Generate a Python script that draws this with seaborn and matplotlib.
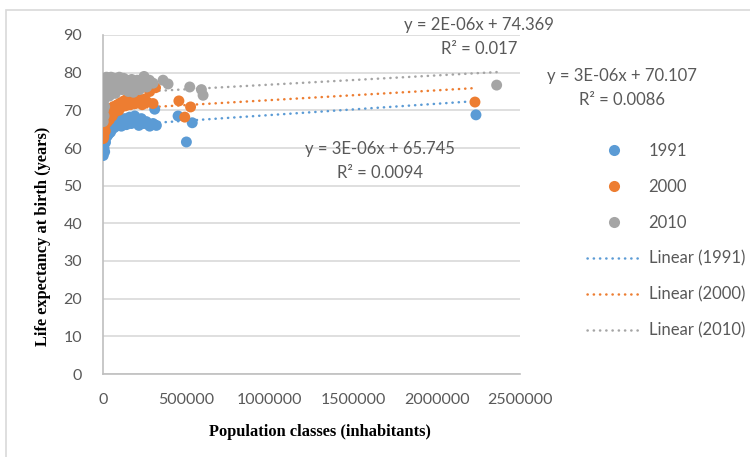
import numpy as np
import pandas as pd
import matplotlib
matplotlib.use("Agg")
import matplotlib.pyplot as plt
from matplotlib.patches import Rectangle
from matplotlib.lines import Line2D
import seaborn as sns

# ---- data -------------------------------------------------------------
years = ["1991", "2000", "2010"]

pop_1991 = [1500, 2500, 3500, 5000, 6000, 8000, 10000, 12000, 15000, 18000,
            22000, 26000, 30000, 35000, 40000, 45000, 50000, 55000, 60000,
            70000, 80000, 90000, 100000, 110000, 120000, 130000, 140000,
            150000, 160000, 170000, 180000, 190000, 200000, 215000, 230000,
            245000, 260000, 280000, 300000, 310000, 320000, 450000, 500000,
            535000, 2236000]
life_1991 = [58.0, 59.5, 61.0, 62.5, 60.0, 63.5, 59.0, 64.0, 61.5, 62.8,
             64.5, 63.2, 65.0, 63.8, 65.5, 64.2, 66.0, 65.0, 66.5, 65.5,
             67.0, 66.0, 67.5, 65.8, 66.8, 67.8, 66.2, 67.2, 68.2, 66.5,
             67.0, 68.5, 67.2, 66.0, 67.8, 66.5, 67.0, 65.8, 66.5, 70.3,
             66.0, 68.5, 61.6, 66.7, 68.8]

pop_2000 = [1500, 2500, 4000, 5000, 7000, 9000, 11000, 14000, 17000, 20000,
            24000, 28000, 32000, 38000, 44000, 50000, 56000, 63000, 70000,
            78000, 86000, 95000, 105000, 115000, 125000, 135000, 145000,
            155000, 165000, 175000, 185000, 195000, 205000, 220000, 235000,
            250000, 265000, 280000, 300000, 315000, 455000, 490000, 525000,
            2230000]
life_2000 = [62.5, 64.0, 65.5, 63.0, 67.0, 66.0, 68.5, 64.5, 67.5, 69.5,
             66.8, 68.0, 70.0, 67.5, 69.0, 70.5, 68.5, 71.0, 69.5, 70.5,
             71.5, 70.0, 72.0, 71.0, 72.5, 71.2, 73.0, 72.0, 71.5, 73.2,
             72.3, 71.8, 73.5, 72.5, 71.5, 73.0, 72.2, 75.0, 71.8, 76.0,
             72.5, 68.2, 70.9, 72.2]

pop_2010 = [1500, 2500, 3500, 5000, 6500, 8000, 10000, 12000, 15000, 18000,
            21000, 25000, 29000, 33000, 38000, 43000, 48000, 54000, 60000,
            67000, 74000, 82000, 90000, 98000, 106000, 115000, 124000,
            133000, 142000, 152000, 162000, 172000, 182000, 192000, 205000,
            218000, 232000, 246000, 262000, 278000, 300000, 360000, 390000,
            520000, 590000, 600000, 2360000]
life_2010 = [67.0, 70.0, 72.5, 75.0, 68.5, 77.5, 71.0, 78.5, 73.5, 76.0,
             78.8, 74.5, 77.0, 78.5, 73.8, 76.5, 78.8, 75.0, 77.5, 78.5,
             74.5, 78.0, 76.0, 78.8, 77.0, 75.5, 78.5, 76.5, 78.0, 75.0,
             77.5, 78.2, 74.8, 76.8, 78.0, 75.5, 77.0, 79.0, 76.2, 78.0,
             77.2, 78.0, 77.0, 76.2, 75.5, 74.0, 76.7]

# linear trend coefficients (slope per inhabitant, intercept) and R²
trend_slope = [3.0e-6, 2.6e-6, 2.45e-6]
trend_intercept = [65.745, 70.107, 74.369]
trend_r2 = ["0.0094", "0.0086", "0.017"]

yticks = [0, 10, 20, 30, 40, 50, 60, 70, 80, 90]
xticks = [0, 500000, 1000000, 1500000, 2000000, 2500000]

colors = ["#5B9BD5", "#ED7D31", "#A5A5A5"]

# ---- figure -----------------------------------------------------------
sns.set_theme(style="white")
plt.rcParams["font.family"] = ["Lato", "DejaVu Sans"]

W, H = 750, 457
fig = plt.figure(figsize=(7.5, 4.57), dpi=100)
ax = fig.add_axes([103 / W, 1 - 374 / H, 417 / W, 339 / H])

df = pd.concat([
    pd.DataFrame({"pop": p, "life": l, "year": y})
    for p, l, y in zip([pop_1991, pop_2000, pop_2010],
                       [life_1991, life_2000, life_2010], years)
], ignore_index=True)

sns.scatterplot(data=df, x="pop", y="life", hue="year", hue_order=years,
                palette=colors, s=62, linewidth=0, alpha=1, ax=ax,
                legend=False, zorder=3)

dot_style = dict(lw=1.8, linestyle=(0, (0.1, 2.4)), dash_capstyle="round")
pops = [pop_1991, pop_2000, pop_2010]
for i, (p, m, b) in enumerate(zip(pops, trend_slope, trend_intercept)):
    xs = np.array([min(p), max(p)])
    ax.plot(xs, m * xs + b, color=colors[i], zorder=2, **dot_style)

ax.set_xlim(0, 2500000)
ax.set_ylim(0, 90)
ax.set_xticks(xticks)
ax.set_yticks(yticks)
ax.set_xticklabels([str(t) for t in xticks])
ax.set_yticklabels([str(t) for t in yticks])
ax.tick_params(axis="both", length=0, labelsize=11.5, colors="#595959")
ax.tick_params(axis="x", pad=14)
ax.tick_params(axis="y", pad=15)
ax.yaxis.grid(True, color="#D9D9D9", lw=1.2)
ax.xaxis.grid(False)
ax.set_axisbelow(True)
for side in ["top", "right"]:
    ax.spines[side].set_visible(False)
for side in ["left", "bottom"]:
    ax.spines[side].set_color("#BFBFBF")
    ax.spines[side].set_linewidth(1.2)

ax.set_xlabel("Population classes (inhabitants)", family="Liberation Serif",
              fontweight="bold", fontsize=11.8, color="black")
ax.set_ylabel("Life expectancy at birth (years)", family="Liberation Serif",
              fontweight="bold", fontsize=11.8, color="black")
ax.xaxis.set_label_coords((320 - 103) / 417, (374 - 424) / 339)
ax.yaxis.set_label_coords((51 - 103) / 417, (374 - 236) / 339)

# trend equations
eq_pos = [(380, 141), (622, 68), (479, 17)]
for i, (px, py) in enumerate(eq_pos):
    txt = "y = {:.0E}x + {:.3f}\nR² = {}".format(trend_slope[i],
                                                 trend_intercept[i], trend_r2[i])
    fig.text(px / W, 1 - py / H, txt, ha="center", va="top",
             fontsize=12, color="#595959", linespacing=1.65)

# legend
handles = [Line2D([], [], marker="o", linestyle="none", markersize=8,
                  markerfacecolor=c, markeredgewidth=0) for c in colors]
handles += [Line2D([], [], color=c, **dot_style) for c in colors]
labels = years + ["Linear ({})".format(y) for y in years]
fig.legend(handles, labels, loc="upper left",
           bbox_to_anchor=(587 / W, 1 - 143 / H), frameon=False,
           borderpad=0, borderaxespad=0,
           fontsize=12, labelcolor="#595959", labelspacing=1.19,
           handlelength=3.2, handletextpad=0.5)

# outer chart border
fig.patches.append(Rectangle((6 / W, -0.05), 1.0, 1 - 10 / H + 0.05,
                             transform=fig.transFigure, fill=False,
                             edgecolor="#D9D9D9", lw=1.2))

fig.savefig("out.png", dpi=100)
